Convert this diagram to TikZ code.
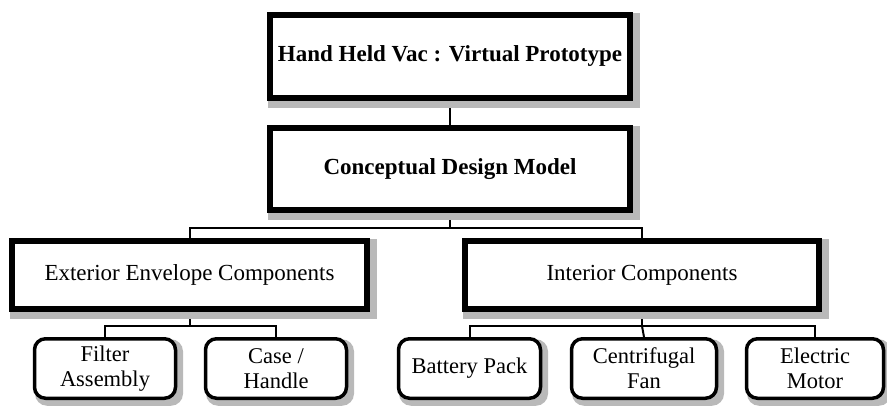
\documentclass[tikz,border=0pt]{standalone}
\usepackage{fontspec}
\setmainfont{Liberation Serif}
\pgfdeclarelayer{bg}
\pgfsetlayers{bg,main}
\begin{document}
\begin{tikzpicture}[x=1pt,y=1pt,
  mainbox/.style={draw,line width=6pt,fill=white,align=center,font=\fontsize{23}{26}\selectfont\bfseries},
  groupbox/.style={draw,line width=6pt,fill=white,align=center,font=\fontsize{23}{26}\selectfont},
  leafbox/.style={draw,line width=3.5pt,fill=white,rounded corners=11pt,align=center,font=\fontsize{22.5}{25}\selectfont},
  shadowfill/.style={fill=gray!55},
  link/.style={line width=2pt}]
\useasboundingbox (0,0) rectangle (887,-407);
% top levels
\node[mainbox,minimum width=360pt,minimum height=83pt] (vac) at (450,-56.5) {Hand Held Vac : Virtual Prototype};
\node[mainbox,minimum width=360pt,minimum height=82pt] (cdm) at (450,-169) {Conceptual Design Model};
% component groups
\node[groupbox,minimum width=355pt,minimum height=68pt] (ext) at (189.5,-275) {Exterior Envelope Components};
\node[groupbox,minimum width=354pt,minimum height=68pt] (int) at (642,-275) {Interior Components};
% leaf parts
\node[leafbox,minimum width=141pt,minimum height=59.5pt] (flt) at (105,-368.5) {Filter\\Assembly};
\node[leafbox,minimum width=141pt,minimum height=59.5pt] (cse) at (276,-368.5) {Case /\\Handle};
\node[leafbox,minimum width=142pt,minimum height=59.5pt] (bat) at (469.5,-368.5) {Battery Pack};
\node[leafbox,minimum width=145pt,minimum height=59.5pt] (fan) at (644,-368.5) {Centrifugal\\Fan};
\node[leafbox,minimum width=137pt,minimum height=59.5pt] (mot) at (815,-368.5) {Electric\\Motor};
\begin{pgfonlayer}{bg}
  % connectors
  \coordinate (j1) at (450,-228);
  \coordinate (j2) at (189.5,-326);
  \coordinate (j3) at (642,-326);
  \draw[link] (vac.south) -- (cdm.north);
  \draw[link] (cdm.south) -- (j1);
  \draw[link] (ext.north) |- (j1) -| (int.north);
  \draw[link] (ext.south) -- (j2);
  \draw[link] (flt.north) |- (j2) -| (cse.north);
  \draw[link] (int.south) -- (j3);
  \draw[link] (bat.north) |- (j3) -| (mot.north);
  \draw[link] (j3) -- (fan.north);
  % drop shadows, offset down and to the right
  \foreach \n in {vac,cdm,ext,int}
    \fill[shadowfill] ([shift={(1,-7)}]\n.south west) rectangle ([shift={(7,-1)}]\n.north east);
  \foreach \n in {flt,cse,bat,fan,mot}
    \fill[shadowfill,rounded corners=12pt] ([shift={(2.25,-5.75)}]\n.south west) rectangle ([shift={(5.75,-2.25)}]\n.north east);
\end{pgfonlayer}
\end{tikzpicture}
\end{document}
